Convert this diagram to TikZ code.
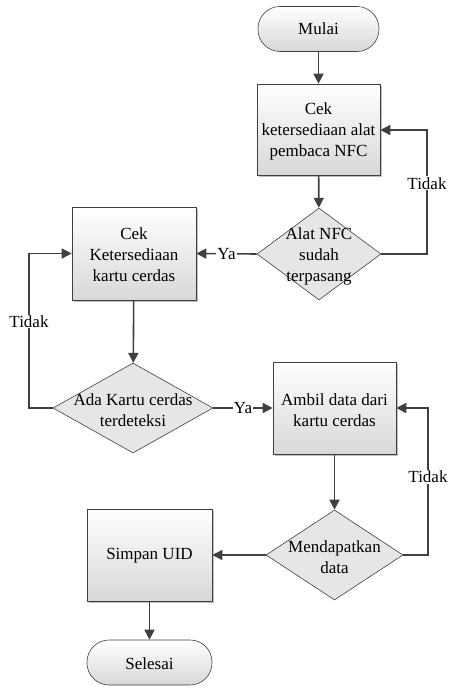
\documentclass[tikz,border=0pt]{standalone}
\usepackage{fontspec}
\setmainfont{Liberation Serif}
\usetikzlibrary{arrows.meta,shapes.geometric,shadows}
\definecolor{linegray}{HTML}{404040}
\definecolor{boxgray}{HTML}{D8D8D8}
\definecolor{diagray}{HTML}{E6E6E6}
\begin{document}
\begin{tikzpicture}[x=1pt,y=-1pt,
  font=\fontsize{17}{21}\selectfont,
  every path/.style={line width=0.6pt},
  process/.style={draw=linegray, rectangle, inner sep=0pt,
    top color=white, bottom color=boxgray,
    drop shadow={shadow xshift=1.5pt, shadow yshift=-1.5pt, opacity=0.25, fill=black}},
  terminal/.style={draw=linegray, rectangle, rounded corners=22pt, inner sep=0pt,
    top color=white, bottom color=boxgray},
  decision/.style={draw=linegray, diamond, inner sep=0pt, fill=diagray},
  txt/.style={align=center, inner sep=0pt},
  flow/.style={draw=linegray, line width=1.6pt, -{Triangle[length=10pt,width=10pt]}},
  branch/.style={fill=white, inner sep=1pt}
]
\useasboundingbox (0,0) rectangle (449,688);

% shapes
\node[terminal, minimum width=121pt, minimum height=45pt] (start) at (318.5,29) {};
\node[process, minimum width=123pt, minimum height=91pt] (nfc) at (318.5,129.5) {};
\node[decision, minimum width=124pt, minimum height=92pt] (qnfc) at (319,254) {};
\node[process, minimum width=124pt, minimum height=93pt] (card) at (134,253.5) {};
\node[decision, minimum width=160pt, minimum height=90pt] (qcard) at (133,408) {};
\node[process, minimum width=123pt, minimum height=92pt] (read) at (334.5,408) {};
\node[decision, minimum width=137pt, minimum height=90pt] (qread) at (334.5,555) {};
\node[process, minimum width=125pt, minimum height=92pt] (save) at (149.5,555) {};
\node[terminal, minimum width=125pt, minimum height=45pt] (stop) at (149.5,662.5) {};

% texts
\node[txt] (tstart) at (start) {Mulai};
\node[txt] (tnfc) at (318.5,131) {Cek\\ketersediaan alat\\pembaca NFC};
\node[txt] (tqnfc) at (319,256) {Alat NFC\\sudah\\terpasang};
\node[txt] (tcard) at (134,255) {Cek\\Ketersediaan\\kartu cerdas};
\node[txt] (tqcard) at (133,410) {Ada Kartu cerdas\\terdeteksi};
\node[txt] (tread) at (334.5,410) {Ambil data dari\\kartu cerdas};
\node[txt] (tqread) at (334.5,557) {Mendapatkan\\data};
\node[txt] (tsave) at (149.5,556) {Simpan UID};
\node[txt] (tstop) at (149.5,664) {Selesai};

% loop corners
\coordinate (c1a) at (427,254);
\coordinate (c1b) at (427,130);
\coordinate (c2a) at (29,408);
\coordinate (c2b) at (29,253.5);
\coordinate (c3a) at (428,555);
\coordinate (c3b) at (428,408);

% connectors
\draw[flow] (start) -- (nfc);
\draw[flow] (nfc) -- (qnfc);
\draw[flow] (qnfc.east) -- (c1a) -- node[branch, pos=0.57] {Tidak} (c1b) -- (nfc.east |- c1b);
\draw[flow] (qnfc.west) -- node[branch, pos=0.5] {Ya} (card.east);
\draw[flow] (card) -- (qcard);
\draw[flow] (qcard.west) -- (c2a) -- node[branch, pos=0.56] {Tidak} (c2b) -- (card.west);
\draw[flow] (qcard.east) -- node[branch, pos=0.5] {Ya} (read.west);
\draw[flow] (read) -- (qread);
\draw[flow] (qread.east) -- (c3a) -- node[branch, pos=0.53] {Tidak} (c3b) -- (read.east);
\draw[flow] (qread.west) -- (save.east);
\draw[flow] (save) -- (stop);
\end{tikzpicture}
\end{document}
